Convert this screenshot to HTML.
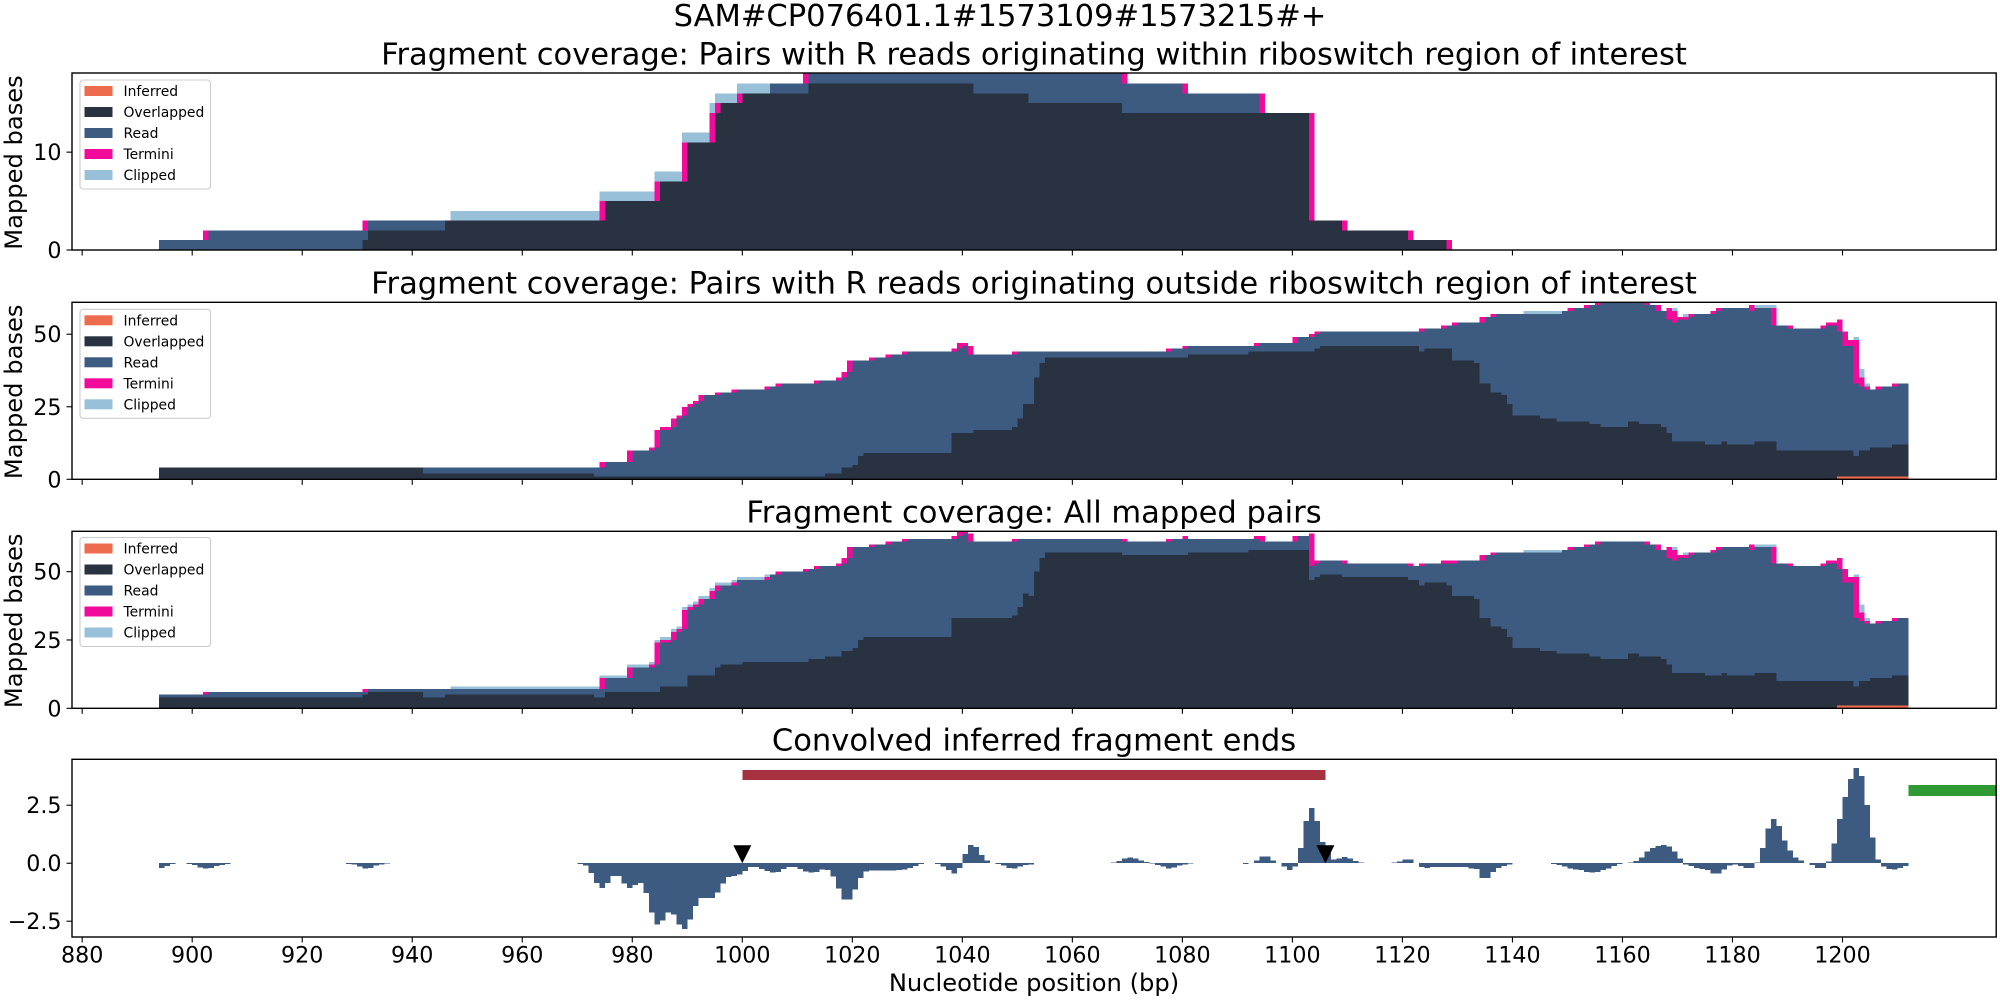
<!DOCTYPE html>
<html lang="en">
<head>
<meta charset="utf-8">
<title>Fragment coverage chart</title>
<style>
html,body{margin:0;padding:0;background:#fff;}
svg{display:block;font-family:"DejaVu Sans",sans-serif;}
</style>
</head>
<body>
<svg id="chart" xmlns="http://www.w3.org/2000/svg" width="2000" height="1000" viewBox="0 0 2000 1000">
<rect x="0" y="0" width="2000" height="1000" fill="#fff"/>
<text x="1000" y="26" font-size="30.55" text-anchor="middle" fill="#000">SAM#CP076401.1#1573109#1573215#+</text>
<text x="1034" y="991" font-size="24.2" text-anchor="middle" fill="#000">Nucleotide position (bp)</text>
</svg>
<script>
// ---------- chart data (bp = nucleotide position; runs are [start bp, level]) ----------
const binStart = 894;
const binEnd = 1212;
const xTickValues = [880,900,920,940,960,980,1000,1020,1040,1060,1080,1100,1120,1140,1160,1180,1200];
const legendLabels = ["Inferred","Overlapped","Read","Termini","Clipped"];
const panelTitles = [
  "Fragment coverage: Pairs with R reads originating within riboswitch region of interest",
  "Fragment coverage: Pairs with R reads originating outside riboswitch region of interest",
  "Fragment coverage: All mapped pairs",
  "Convolved inferred fragment ends"
];
const yTicksWithin = [0,10];
const yTicksOutside = [0,25,50];
const yTicksAll = [0,25,50];
const yTicksConvolved = [-2.5,0,2.5];
const yTickLabelsConvolved = ["\u22122.5","0.0","2.5"];

// Panel 1: within region
const withinInferred = [[894,0]];
const withinOverlapTop = [[894,0],[931,1],[932,2],[946,3],[975,5],[985,7],[990,11],[995,14],[996,15],[1000,16],[1012,17],[1042,16],[1052,15],[1069,14],[1103,3],[1109,2],[1121,1],[1128,0]];
const withinReadTop = [[894,1],[903,2],[932,3],[975,5],[985,7],[990,11],[995,14],[996,15],[1000,16],[1005,17],[1012,19],[1069,17],[1080,16],[1094,14],[1103,3],[1109,2],[1121,1],[1128,0]];
const withinTermini = [[902,1],[931,1],[974,2],[984,2],[989,4],[994,3],[995,1],[999,1],[1011,2],[1069,2],[1080,1],[1094,2],[1103,11],[1109,1],[1121,1],[1128,1]];
const withinClipped = [[947,1004,1]];

// Panel 2: outside region
const outsideInferred = [[894,0],[1199,1]];
const outsideOverlapTop = [[894,4],[942,2],[973,1],[1015,2],[1018,4],[1020,5],[1021,8],[1022,9],[1038,16],[1042,17],[1049,18],[1050,21],[1051,26],[1053,35],[1054,40],[1055,42],[1081,43],[1092,44],[1104,45],[1105,46],[1123,44],[1124,45],[1129,41],[1133,40],[1134,33],[1136,30],[1138,29],[1139,26],[1140,22],[1145,21],[1148,20],[1154,19],[1156,18],[1161,20],[1163,19],[1167,18],[1168,16],[1169,13],[1175,12],[1178,13],[1179,12],[1184,13],[1188,10],[1202,8],[1203,10],[1205,11],[1209,12]];
const outsideReadTop = [[894,4],[975,6],[980,10],[984,11],[985,17],[987,18],[988,21],[989,22],[990,25],[991,26],[992,27],[993,29],[996,30],[999,31],[1005,32],[1007,33],[1014,34],[1018,35],[1019,37],[1020,41],[1024,42],[1027,43],[1030,44],[1039,45],[1040,46],[1041,43],[1050,44],[1078,45],[1081,46],[1094,47],[1101,49],[1104,50],[1105,51],[1124,52],[1128,53],[1130,54],[1135,56],[1137,57],[1149,58],[1151,59],[1154,60],[1156,61],[1164,60],[1166,58],[1168,55],[1169,54],[1170,55],[1172,56],[1173,57],[1177,58],[1178,59],[1183,58],[1184,59],[1187,53],[1190,52],[1197,53],[1199,51],[1200,46],[1202,33],[1203,32],[1204,31],[1207,32],[1210,33]];
const outsideTermini = [[974,2],[979,4],[983,1],[984,6],[985,1],[986,1],[987,3],[988,1],[989,3],[990,1],[991,1],[992,2],[995,1],[998,1],[1004,1],[1006,1],[1013,1],[1017,1],[1018,2],[1019,4],[1023,1],[1026,1],[1029,1],[1038,1],[1039,2],[1040,1],[1041,3],[1049,1],[1077,1],[1080,1],[1093,1],[1100,2],[1103,1],[1104,1],[1123,1],[1127,1],[1129,1],[1134,2],[1136,1],[1150,1],[1153,1],[1155,1],[1164,1],[1166,2],[1168,4],[1169,4],[1170,1],[1171,1],[1172,1],[1176,1],[1177,1],[1183,2],[1187,6],[1190,1],[1196,1],[1197,1],[1198,1],[1199,4],[1200,5],[1201,2],[1202,15],[1203,3],[1204,1],[1206,1],[1209,1]];
const outsideClipped = [[1142,1148,1],[1169,1169,1],[1171,1171,1],[1184,1187,1],[1202,1202,1],[1203,1203,3],[1204,1204,1]];

// Panel 3: all mapped pairs
const allInferred = [[894,0],[1199,1]];
const allOverlapTop = [[894,4],[931,5],[932,6],[942,4],[946,5],[973,4],[975,6],[985,8],[990,12],[995,15],[996,16],[1000,17],[1012,18],[1015,19],[1018,21],[1020,22],[1021,25],[1022,26],[1038,33],[1049,34],[1050,37],[1051,42],[1052,41],[1053,50],[1054,55],[1055,57],[1069,56],[1081,57],[1092,58],[1103,47],[1104,48],[1105,49],[1109,48],[1121,47],[1123,45],[1124,46],[1128,45],[1129,41],[1133,40],[1134,33],[1136,30],[1138,29],[1139,26],[1140,22],[1145,21],[1148,20],[1154,19],[1156,18],[1161,20],[1163,19],[1167,18],[1168,16],[1169,13],[1175,12],[1178,13],[1179,12],[1184,13],[1188,10],[1202,8],[1203,10],[1205,11],[1209,12]];
const allReadTop = [[894,5],[903,6],[932,7],[975,11],[980,15],[984,16],[985,24],[987,25],[988,28],[989,29],[990,36],[991,37],[992,38],[993,40],[995,43],[996,45],[999,47],[1005,49],[1007,50],[1012,51],[1014,52],[1018,53],[1019,55],[1020,59],[1024,60],[1027,61],[1030,62],[1039,63],[1040,64],[1041,61],[1050,62],[1069,61],[1078,62],[1094,61],[1101,63],[1103,52],[1104,53],[1105,54],[1109,53],[1121,52],[1124,53],[1130,54],[1135,56],[1137,57],[1149,58],[1151,59],[1154,60],[1156,61],[1164,60],[1166,58],[1168,55],[1169,54],[1170,55],[1172,56],[1173,57],[1177,58],[1178,59],[1183,58],[1184,59],[1187,53],[1190,52],[1197,53],[1199,51],[1200,46],[1202,33],[1203,32],[1204,31],[1207,32],[1210,33]];
const allTermini = [[902,1],[931,1],[974,4],[979,4],[983,1],[984,8],[985,1],[986,1],[987,3],[988,1],[989,7],[990,1],[991,1],[992,2],[994,3],[995,2],[998,1],[1004,1],[1006,1],[1011,1],[1013,1],[1017,1],[1018,2],[1019,4],[1023,1],[1026,1],[1029,1],[1038,1],[1039,2],[1040,1],[1041,3],[1049,1],[1069,1],[1077,1],[1080,1],[1093,1],[1094,2],[1100,2],[1103,12],[1104,1],[1109,1],[1121,1],[1123,1],[1127,1],[1128,1],[1129,1],[1134,2],[1136,1],[1150,1],[1153,1],[1155,1],[1164,1],[1166,2],[1168,4],[1169,4],[1170,1],[1171,1],[1172,1],[1176,1],[1177,1],[1183,2],[1187,6],[1190,1],[1196,1],[1197,1],[1198,1],[1199,4],[1200,5],[1201,2],[1202,15],[1203,3],[1204,1],[1206,1],[1209,1]];
const allClipped = [[947,1004,1],[1142,1148,1],[1169,1169,1],[1171,1171,1],[1184,1187,1],[1202,1202,1],[1203,1203,3],[1204,1204,1]];

// Panel 4: convolved inferred fragment ends, [bp, value]
const convolvedEnds = [
[894,-0.2],[895,-0.11],[896,-0.03],
[899,-0.04],[900,-0.08],[901,-0.18],[902,-0.22],[903,-0.2],[904,-0.12],[905,-0.08],[906,-0.03],
[928,-0.03],[929,-0.06],[930,-0.14],[931,-0.22],[932,-0.2],[933,-0.1],[934,-0.05],[935,-0.02],
[970,-0.03],[971,-0.1],[972,-0.42],[973,-0.85],[974,-1.06],[975,-0.85],[976,-0.55],[977,-0.55],[978,-0.88],[979,-1.06],[980,-0.93],[981,-0.85],[982,-1.28],[983,-2.13],[984,-2.65],[985,-2.47],[986,-2.13],[987,-2.2],[988,-2.65],[989,-2.83],[990,-2.43],[991,-1.84],[992,-1.5],[993,-1.5],[994,-1.5],[995,-1.27],[996,-0.87],[997,-0.6],[998,-0.55],[999,-0.48],
[1000,-0.33],[1001,-0.17],[1002,-0.17],[1003,-0.25],[1004,-0.33],[1005,-0.4],[1006,-0.37],[1007,-0.25],[1008,-0.17],[1009,-0.17],[1010,-0.25],[1011,-0.35],[1012,-0.4],[1013,-0.37],[1014,-0.28],[1015,-0.3],[1016,-0.58],[1017,-1.1],[1018,-1.57],[1019,-1.57],[1020,-1.14],[1021,-0.63],[1022,-0.35],[1023,-0.32],[1024,-0.32],[1025,-0.32],[1026,-0.32],[1027,-0.32],[1028,-0.3],[1029,-0.28],[1030,-0.2],[1031,-0.12],[1032,-0.03],
[1035,-0.03],[1036,-0.15],[1037,-0.3],[1038,-0.45],[1039,-0.2],[1040,0.4],[1041,0.78],[1042,0.7],[1043,0.35],[1044,0.12],[1046,-0.03],[1047,-0.1],[1048,-0.2],[1049,-0.22],[1050,-0.15],[1051,-0.08],[1052,-0.06],
[1067,0.03],[1068,0.1],[1069,0.2],[1070,0.25],[1071,0.2],[1072,0.12],[1073,0.05],
[1074,-0.02],[1075,-0.08],[1076,-0.15],[1077,-0.22],[1078,-0.18],[1079,-0.1],[1080,-0.05],[1081,-0.02],
[1091,-0.03],[1093,0.12],[1094,0.3],[1095,0.3],[1096,0.12],
[1098,-0.15],[1099,-0.3],[1100,-0.15],[1101,0.65],[1102,1.83],[1103,2.38],[1104,1.83],[1105,0.92],[1106,0.65],[1107,0.15],[1108,0.2],[1109,0.26],[1110,0.2],[1111,0.1],[1112,0.03],
[1118,0.03],[1119,0.08],[1120,0.17],[1121,0.17],
[1123,-0.17],[1124,-0.2],[1125,-0.17],[1126,-0.17],[1127,-0.17],[1128,-0.17],[1129,-0.17],[1130,-0.17],[1131,-0.17],[1132,-0.22],[1133,-0.25],[1134,-0.63],[1135,-0.63],[1136,-0.38],[1137,-0.2],[1138,-0.12],[1139,-0.05],
[1147,-0.03],[1148,-0.08],[1149,-0.15],[1150,-0.22],[1151,-0.27],[1152,-0.3],[1153,-0.38],[1154,-0.4],[1155,-0.38],[1156,-0.3],[1157,-0.22],[1158,-0.12],[1159,-0.03],
[1161,0.03],[1162,0.1],[1163,0.25],[1164,0.5],[1165,0.65],[1166,0.75],[1167,0.78],[1168,0.72],[1169,0.5],[1170,0.2],
[1171,-0.05],[1172,-0.12],[1173,-0.2],[1174,-0.25],[1175,-0.3],[1176,-0.45],[1177,-0.45],[1178,-0.28],[1179,-0.1],[1180,-0.05],[1181,-0.12],[1182,-0.2],[1183,-0.2],
[1184,0.03],[1185,0.65],[1186,1.5],[1187,1.9],[1188,1.6],[1189,0.98],[1190,0.55],[1191,0.25],[1192,0.12],
[1194,-0.08],[1195,-0.2],[1196,-0.2],[1197,0.08],[1198,0.85],[1199,1.9],[1200,2.85],[1201,3.63],[1202,4.1],[1203,3.75],[1204,2.5],[1205,1.1],[1206,0.17],[1207,-0.15],[1208,-0.25],[1209,-0.28],[1210,-0.2],[1211,-0.12]
];
const riboswitchSpan = [1000,1106,3.59,4.02];
const geneSpan = [1212,1228,2.9,3.38];
const peakMarkers = [1000,1106];

// ---------- rendering ----------
const svg = document.getElementById('chart');
const NS = 'http://www.w3.org/2000/svg';
const AX_LEFT = 72, AX_RIGHT = 1996.2;
const colors = {inferred:'#ee6c4d',overlapped:'#293241',read:'#3d5a80',termini:'#f20a9a',clipped:'#98c1d9'};
const legendColors = [colors.inferred,colors.overlapped,colors.read,colors.termini,colors.clipped];
const xScale = bp => 742.3 + (bp - 1000) * 5.501;

function mk(tag, attrs, parent, text) {
  const el = document.createElementNS(NS, tag);
  for (const k in attrs) el.setAttribute(k, attrs[k]);
  if (text !== undefined) el.textContent = text;
  (parent || svg).appendChild(el);
  return el;
}
function runValue(runs, bp) {
  let v = 0;
  for (const r of runs) { if (r[0] <= bp) v = r[1]; else break; }
  return v;
}
function pointValue(points, bp) {
  for (const p of points) { if (p[0] === bp) return p[1]; }
  return 0;
}
function rangeValue(ranges, bp) {
  for (const r of ranges) { if (r[0] <= bp && bp <= r[1]) return r[2]; }
  return 0;
}

const panels = [
  {top:73,bottom:250,yMin:0,yMax:18.09,yTicks:yTicksWithin,yLabels:yTicksWithin.map(String),inferred:withinInferred,overlap:withinOverlapTop,read:withinReadTop,termini:withinTermini,clipped:withinClipped,lastBin:1129,titleY:64.4,legendTop:80},
  {top:302.3,bottom:479.3,yMin:0,yMax:61,yTicks:yTicksOutside,yLabels:yTicksOutside.map(String),inferred:outsideInferred,overlap:outsideOverlapTop,read:outsideReadTop,termini:outsideTermini,clipped:outsideClipped,lastBin:binEnd,titleY:293.4,legendTop:309.3},
  {top:531.3,bottom:708.3,yMin:0,yMax:64.76,yTicks:yTicksAll,yLabels:yTicksAll.map(String),inferred:allInferred,overlap:allOverlapTop,read:allReadTop,termini:allTermini,clipped:allClipped,lastBin:binEnd,titleY:522.4,legendTop:537.5},
  {top:759.3,bottom:937,yMin:-3.18,yMax:4.48,yTicks:yTicksConvolved,yLabels:yTickLabelsConvolved,titleY:750.6}
];

function drawFrame(p, i, group) {
  const rect = mk('rect',{x:AX_LEFT,y:p.top,width:AX_RIGHT-AX_LEFT,height:p.bottom-p.top,fill:'none',stroke:'#000','stroke-width':1.4},group);
  
  
  const title = mk('text',{x:1034,y:p.titleY,'font-size':30.55,'text-anchor':'middle',fill:'#000'},group,panelTitles[i]);
  
  
  for (const v of xTickValues) {
    const t = mk('line',{x1:xScale(v),x2:xScale(v),y1:p.bottom,y2:p.bottom+5.5,stroke:'#000','stroke-width':1.1},group);
    
    
    if (i === 3) {
      const l = mk('text',{x:xScale(v),y:p.bottom+25.5,'font-size':22.2,'text-anchor':'middle',fill:'#000'},group,String(v));
      
      
    }
  }
  const yScale = val => p.bottom - (val - p.yMin) / (p.yMax - p.yMin) * (p.bottom - p.top);
  p.yTicks.forEach((v, k) => {
    const y = yScale(v);
    const t = mk('line',{x1:AX_LEFT-5.5,x2:AX_LEFT,y1:y,y2:y,stroke:'#000','stroke-width':1.1},group);
    
    
    const l = mk('text',{x:AX_LEFT-10.5,y:y+8,'font-size':22.2,'text-anchor':'end',fill:'#000'},group,p.yLabels[k]);
    
    
  });
  if (i < 3) {
    const mid = (p.top + p.bottom) / 2 + 1;
    const yl = mk('text',{x:22,y:mid,'font-size':24.2,'text-anchor':'middle',fill:'#000',transform:'rotate(-90 22 '+mid+')'},group,'Mapped bases');
    
    
  }
  return yScale;
}

function barRect(parent, bp, y0, y1, fill, name) {
  if (y0 <= y1) return;
  const x0 = xScale(bp), x1 = xScale(bp + 1);
  const r = mk('rect',{x:x0,y:y1,width:x1-x0,height:y0-y1,fill:fill,'shape-rendering':'crispEdges'},parent);
  
  
}

function drawCoverage(p, i) {
  const group = mk('g',{});
  
  
  const clipId = 'clip' + i;
  const cp = mk('clipPath',{id:clipId},group);
  mk('rect',{x:AX_LEFT,y:p.top,width:AX_RIGHT-AX_LEFT,height:p.bottom-p.top},cp);
  const bars = mk('g',{'clip-path':'url(#'+clipId+')'},group);
  
  
  const yScale = val => p.bottom - (val - p.yMin) / (p.yMax - p.yMin) * (p.bottom - p.top);
  for (let bp = binStart; bp < p.lastBin; bp++) {
    const inf = runValue(p.inferred, bp);
    const ov = runValue(p.overlap, bp);
    const rd = Math.max(ov, runValue(p.read, bp));
    const te = rd + pointValue(p.termini, bp);
    const cl = te + rangeValue(p.clipped, bp);
    barRect(bars, bp, yScale(te), yScale(cl), colors.clipped, 'clipped-bar');
    barRect(bars, bp, yScale(rd), yScale(te), colors.termini, 'termini-bar');
    barRect(bars, bp, yScale(ov), yScale(rd), colors.read, 'read-bar');
    barRect(bars, bp, yScale(inf), yScale(ov), colors.overlapped, 'overlapped-bar');
    barRect(bars, bp, yScale(0), yScale(inf), colors.inferred, 'inferred-bar');
  }
  drawFrame(p, i, group);
  drawLegend(p, group);
}

function drawLegend(p, group) {
  const lg = mk('g',{},group);
  
  
  const box = mk('rect',{x:80,y:p.legendTop,width:130.5,height:109,rx:3,ry:3,fill:'#fff','fill-opacity':0.8,stroke:'#ccc','stroke-width':1.1},lg);
  
  
  legendLabels.forEach((label, k) => {
    const cy = p.legendTop + 11 + k * 21;
    const sw = mk('rect',{x:84.5,y:cy-5,width:28,height:10,fill:legendColors[k]},lg);
    
    
    const tx = mk('text',{x:123.5,y:cy+5,'font-size':13.9,fill:'#000'},lg,label);
    
    
  });
}

function drawConvolved(p, i) {
  const group = mk('g',{});
  
  
  const yScale = val => p.bottom - (val - p.yMin) / (p.yMax - p.yMin) * (p.bottom - p.top);
  const zero = yScale(0);
  for (const pt of convolvedEnds) {
    const v = yScale(pt[1]);
    const x0 = xScale(pt[0]), x1 = xScale(pt[0] + 1);
    const r = mk('rect',{x:x0,y:Math.min(v,zero),width:x1-x0,height:Math.abs(v-zero),fill:colors.read,'shape-rendering':'crispEdges'},group);
    
    
  }
  const rs = mk('rect',{x:xScale(riboswitchSpan[0]),y:yScale(riboswitchSpan[3]),width:xScale(riboswitchSpan[1])-xScale(riboswitchSpan[0]),height:yScale(riboswitchSpan[2])-yScale(riboswitchSpan[3]),fill:'#a63240','shape-rendering':'crispEdges'},group);
  
  
  const gs = mk('rect',{x:xScale(geneSpan[0]),y:yScale(geneSpan[3]),width:AX_RIGHT-xScale(geneSpan[0]),height:yScale(geneSpan[2])-yScale(geneSpan[3]),fill:'#2f9a33','shape-rendering':'crispEdges'},group);
  
  
  for (const m of peakMarkers) {
    const mx = xScale(m);
    const tri = mk('polygon',{points:(mx-9)+','+(zero-18)+' '+(mx+9)+','+(zero-18)+' '+mx+','+zero,fill:'#000'},group);
    
    
  }
  drawFrame(p, i, group);
}

panels.forEach((p, i) => { if (i < 3) drawCoverage(p, i); else drawConvolved(p, i); });
</script>
</body>
</html>
